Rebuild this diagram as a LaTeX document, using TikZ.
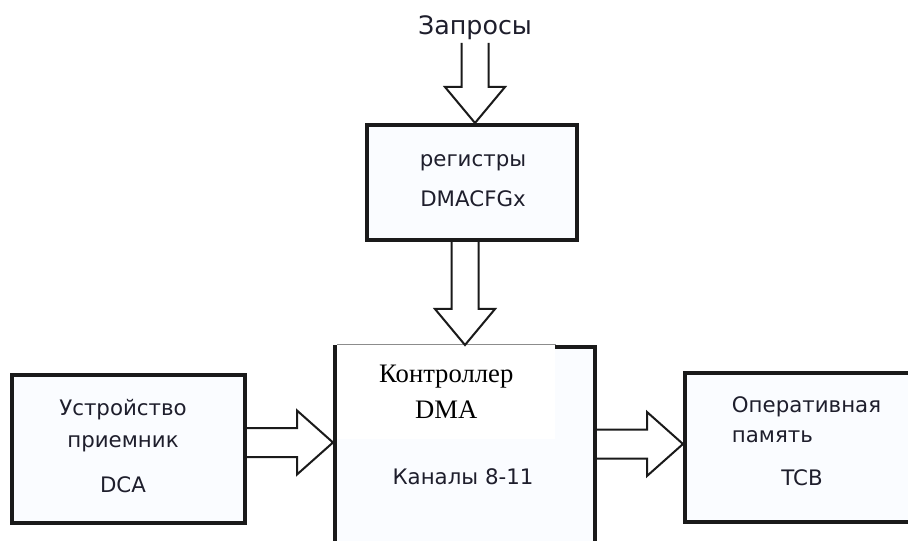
\documentclass[tikz,border=0pt]{standalone}
\usepackage{fontspec}
\setmainfont{Liberation Serif}
\setsansfont{DejaVu Sans}
\usetikzlibrary{calc}
\definecolor{cink}{HTML}{1E1E2C}
\definecolor{cframe}{HTML}{1A1A1A}
\definecolor{cpale}{HTML}{FAFCFF}
\definecolor{cedge}{HTML}{8C8C8C}
\tikzset{
  every picture/.style={x=0.75pt, y=0.75pt},
  block/.style={draw=cframe, fill=cpale, line width=3pt, inner sep=0pt},
  hollow/.style={draw=cframe, line width=1.5pt, line join=miter},
  txt/.style={font=\sffamily\fontsize{16}{19.2}\selectfont, text=cink, align=center, inner sep=2pt},
  serif/.style={font=\rmfamily\fontsize{20}{24}\selectfont, text=black, align=center},
}
\newcommand{\vblock}[2]{\draw[hollow] ($(#1)+(-13.5,0)$) -- ($(#2)+(-13.5,36)$) -- ($(#2)+(-30,36)$) -- (#2) -- ($(#2)+(30,36)$) -- ($(#2)+(13.5,36)$) -- ($(#1)+(13.5,0)$);}
\newcommand{\hblock}[2]{\draw[hollow] ($(#1)+(0,14.5)$) -- ($(#2)+(-36,14.5)$) -- ($(#2)+(-36,32)$) -- (#2) -- ($(#2)+(-36,-32)$) -- ($(#2)+(-36,-14.5)$) -- ($(#1)+(0,-14.5)$);}
\begin{document}
\begin{tikzpicture}
  \useasboundingbox (0,0) rectangle (908,540);
  \node[txt, font=\sffamily\fontsize{19}{23}\selectfont] (zap) at (475,512) {Запросы};
  \node[block, minimum width=157.5pt, minimum height=86.25pt] (reg) at (472,357.5) {};
  \node[txt] (regtxt) at (473,359) {регистры\\[10.8pt]DMACFGx};
  \node[block, minimum width=174.75pt, minimum height=111pt] (dev) at (128.5,91) {};
  \node[txt] (devtxt) at (123,93.5) {Устройство\\[4.8pt]приемник\\[14.55pt]DCA};
  \node[block, minimum width=195pt, minimum height=152.25pt] (ctrl) at (465,91.5) {};
  \node[serif, fill=white, minimum width=163.5pt, minimum height=70.5pt, anchor=north west] (ctrlhead) at (337,195.5) {Контроллер\\[3pt]DMA};
  \draw[cedge, line width=0.75pt] (ctrlhead.north west) -- (ctrlhead.north east);
  \node[txt] (chan) at (463,63) {Каналы 8-11};
  \node[block, minimum width=180pt, minimum height=111.75pt] (mem) at (805,92.5) {};
  \node[txt, align=left, anchor=west] (memtxt) at (729,120) {Оперативная\\[3.3pt]память};
  \node[txt] (tcb) at (802,62) {TCB};
  \coordinate (devport) at ($(dev.east)+(0,6.5)$);
  \coordinate (memport) at ($(mem.west)+(0,3.5)$);
  \vblock{zap.south}{zap |- reg.north}
  \vblock{reg.south -| ctrl.north}{ctrl.north}
  \hblock{devport}{devport -| ctrl.west}
  \hblock{ctrl.east |- memport}{memport}
\end{tikzpicture}
\end{document}
